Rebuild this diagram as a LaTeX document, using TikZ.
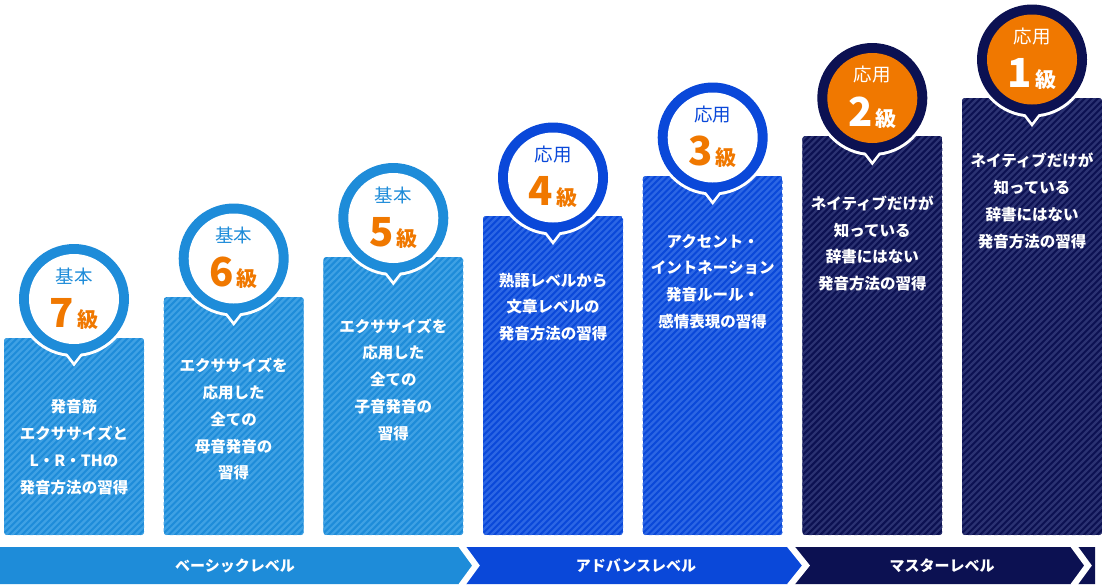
\documentclass[tikz,border=0pt]{standalone}
\usepackage{fontspec}
\setmainfont{Noto Sans CJK JP}
\definecolor{bfill}{HTML}{1E8CD9}
\definecolor{bstripe}{HTML}{3FA1E4}
\definecolor{bring}{HTML}{1E8CD9}
\definecolor{binner}{HTML}{FFFFFF}
\definecolor{blabel}{HTML}{1E8CD9}
\definecolor{bnum}{HTML}{F07800}
\definecolor{afill}{HTML}{0A48D9}
\definecolor{astripe}{HTML}{2C66E4}
\definecolor{aring}{HTML}{0A48D9}
\definecolor{ainner}{HTML}{FFFFFF}
\definecolor{alabel}{HTML}{0A48D9}
\definecolor{anum}{HTML}{F07800}
\definecolor{mfill}{HTML}{0C1152}
\definecolor{mstripe}{HTML}{2B3272}
\definecolor{mring}{HTML}{0C1152}
\definecolor{minner}{HTML}{F07800}
\definecolor{mlabel}{HTML}{FFFFFF}
\definecolor{mnum}{HTML}{FFFFFF}
\definecolor{bandb}{HTML}{1E8CD9}
\definecolor{banda}{HTML}{0A48D9}
\definecolor{bandm}{HTML}{0C1152}
\tikzset{
  coltext/.style={text=white, font=\fontsize{15.5}{26.8}\selectfont\bfseries, align=center, inner sep=0pt},
  bandtext/.style={text=white, font=\fontsize{15}{16}\selectfont\bfseries, inner sep=0pt},
  chev/.style={white, line width=6.2pt, line join=miter}
}
% #1 cx, #2 column top, #3 bubble cy, #4 palette, #5 label, #6 number, #7 text y, #8 text
\newcommand\drawlevel[8]{%
  \begin{scope}
    \clip[rounded corners=3pt] (#1-70,#2) rectangle (#1+70,535);
    \fill[#4fill] (#1-70,#2) rectangle (#1+70,535);
    \foreach \k in {0,...,92} \draw[#4stripe, line width=2.2pt] (#1-522+\k*6.5,540) -- ++(450,-450);
  \end{scope}
  \fill[white] (#1,#3) circle (58);
  \fill[white] (#1-18,#3+44) -- (#1,#3+67.5) -- (#1+18,#3+44) -- cycle;
  \fill[#4ring] (#1,#3) circle (55);
  \fill[#4ring] (#1-14,#3+45) -- (#1,#3+63) -- (#1+14,#3+45) -- cycle;
  \fill[#4inner] (#1,#3) circle (45);
  \node[text=#4label, inner sep=0pt, font=\fontsize{18.5}{20}\selectfont] (lab#6) at (#1,#3-23) {#5};
  \node[text=#4num, inner sep=0pt, anchor=base, font=\fontsize{40}{40}\selectfont\bfseries] (num#6) at (#1,#3+28) {#6\hspace{3pt}{\fontsize{21}{21}\selectfont 級}};
  \node[coltext] (txt#6) at (#1,#7) {#8};
}
\begin{document}
\begin{tikzpicture}[x=1pt,y=-1pt]
\useasboundingbox (0,0) rectangle (1102,584);
\fill[white] (0,0) rectangle (1102,584);

\drawlevel{74}{338}{299}{b}{基本}{7}{447}{発音筋\\エクササイズと\\L・R・THの\\発音方法の習得}
\drawlevel{233.7}{297}{258.5}{b}{基本}{6}{419.3}{エクササイズを\\応用した\\全ての\\母音発音の\\習得}
\drawlevel{393.3}{257}{218}{b}{基本}{5}{379.6}{エクササイズを\\応用した\\全ての\\子音発音の\\習得}
\drawlevel{553}{216}{177.5}{a}{応用}{4}{307}{熟語レベルから\\文章レベルの\\発音方法の習得}
\drawlevel{712.7}{176}{137.5}{a}{応用}{3}{281.5}{アクセント・\\イントネーション\\発音ルール・\\感情表現の習得}
\drawlevel{872.3}{136}{98}{m}{応用}{2}{243.5}{ネイティブだけが\\知っている\\辞書にはない\\発音方法の習得}
\drawlevel{1032}{98}{59.5}{m}{応用}{1}{201}{ネイティブだけが\\知っている\\辞書にはない\\発音方法の習得}

% bottom bands
\fill[bandb] (0,547) -- (461,547) -- (476,565.5) -- (461,584) -- (0,584) -- cycle;
\fill[banda] (461,547) -- (789.5,547) -- (806,565.5) -- (789.5,584) -- (461,584) -- (476,565.5) -- cycle;
\fill[bandm] (789.5,547) -- (1095,547) -- (1095,584) -- (789.5,584) -- (806,565.5) -- cycle;
\draw[chev] (461,545) -- (476,565.5) -- (461,586);
\draw[chev] (789.5,545) -- (806,565.5) -- (789.5,586);
\draw[chev] (1073,545) -- (1088,565.5) -- (1073,586);
\node[bandtext] (l1) at (235,565.5) {ベーシックレベル};
\node[bandtext] (l2) at (636,565.5) {アドバンスレベル};
\node[bandtext] (l3) at (942,565.5) {マスターレベル};
\end{tikzpicture}
\end{document}
